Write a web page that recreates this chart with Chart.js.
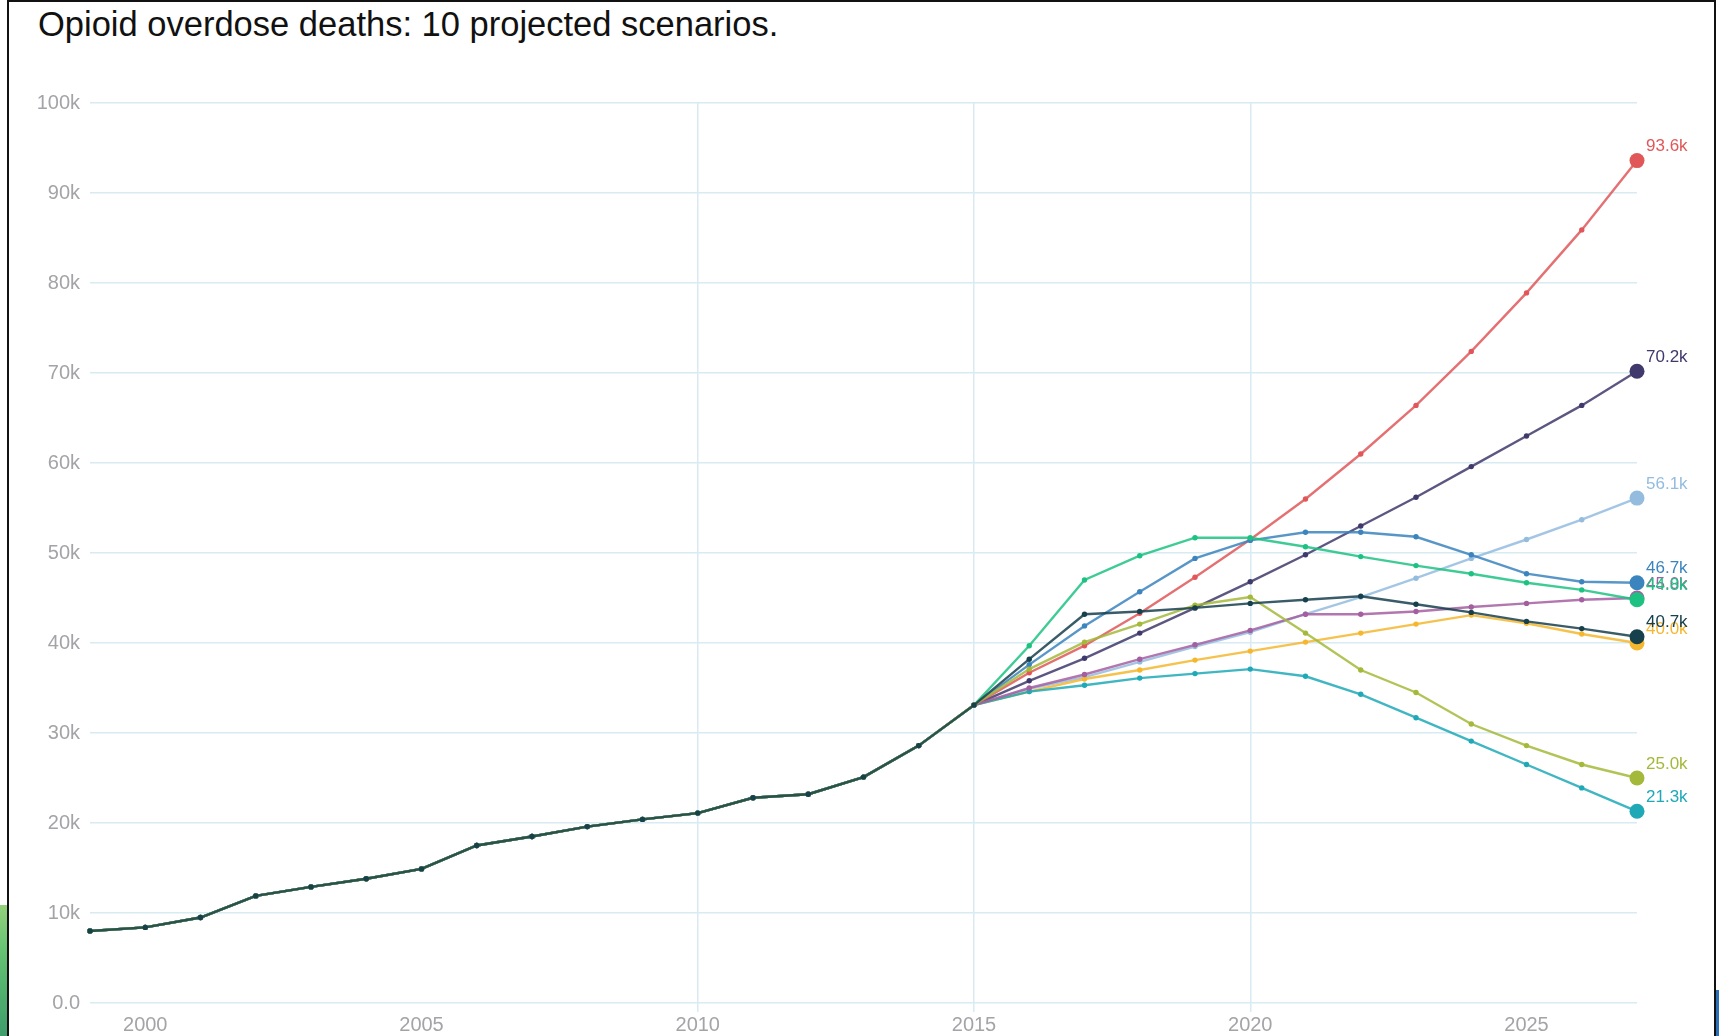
<!DOCTYPE html>
<html>
<head>
<meta charset="utf-8">
<title>Opioid overdose deaths: 10 projected scenarios.</title>
<script src="https://cdn.jsdelivr.net/npm/chart.js@4"></script>
<style>
  html, body { margin: 0; padding: 0; background: #fff; }
  body { width: 1719px; height: 1036px; position: relative; overflow: hidden;
         font-family: "Liberation Sans", Arial, sans-serif; }
  #frame { position: absolute; left: 7px; top: 0; width: 1709px; height: 1050px;
           border: 2px solid #111; border-bottom: none; box-sizing: border-box; background: #fff; }
  #leaf { position: absolute; left: 0; top: 905px; width: 7px; height: 131px;
          background: linear-gradient(170deg, #94d27c 0%, #66c374 35%, #55b46e 60%, #3e9d6c 100%); }
  #edge { position: absolute; left: 1716px; top: 990px; width: 3px; height: 46px; background: #2d6fb4; }
  #title { position: absolute; left: 38px; top: 7px; font-size: 34.5px; line-height: 35px;
           color: #111; white-space: nowrap; }
  #chart { position: absolute; left: 0; top: 0; }
</style>
</head>
<body>
<div id="frame"></div>
<div id="leaf"></div>
<div id="edge"></div>
<div id="title">Opioid overdose deaths: 10 projected scenarios.</div>
<canvas id="chart" width="1719" height="1036"></canvas>

<script>
// --- Datos (miles de muertes) ---
const years = [1999, 2000, 2001, 2002, 2003, 2004, 2005, 2006, 2007, 2008, 2009, 2010, 2011, 2012,
               2013, 2014, 2015, 2016, 2017, 2018, 2019, 2020, 2021, 2022, 2023, 2024, 2025, 2026, 2027];

// 1999-2015, común a todos los escenarios
const historic = [8.0, 8.4, 9.5, 11.9, 12.9, 13.8, 14.9, 17.5, 18.5, 19.6, 20.4, 21.1, 22.8, 23.2, 25.1, 28.6, 33.1];

// 2016-2027
const scNavy       = [38.2, 43.2, 43.5, 43.9, 44.4, 44.8, 45.2, 44.3, 43.4, 42.4, 41.6, 40.7];
const scOlive      = [37.1, 40.1, 42.1, 44.2, 45.1, 41.1, 37.0, 34.5, 31.0, 28.6, 26.5, 25.0];
const scGreen      = [39.7, 47.0, 49.7, 51.7, 51.7, 50.7, 49.6, 48.6, 47.7, 46.7, 45.9, 44.8];
const scPurple     = [35.0, 36.5, 38.2, 39.8, 41.4, 43.2, 43.2, 43.5, 44.0, 44.4, 44.8, 45.0];
const scBlue       = [37.6, 41.9, 45.7, 49.4, 51.4, 52.3, 52.3, 51.8, 49.8, 47.7, 46.8, 46.7];
const scTeal       = [34.6, 35.3, 36.1, 36.6, 37.1, 36.3, 34.3, 31.7, 29.1, 26.5, 23.9, 21.3];
const scYellow     = [34.6, 36.0, 37.0, 38.1, 39.1, 40.1, 41.1, 42.1, 43.1, 42.2, 41.0, 40.0];
const scRed        = [36.7, 39.7, 43.3, 47.3, 51.5, 56.0, 61.0, 66.4, 72.4, 78.9, 85.9, 93.6];
const scDarkPurple = [35.8, 38.3, 41.1, 43.9, 46.8, 49.8, 53.0, 56.2, 59.6, 63.0, 66.4, 70.2];
const scLightBlue  = [34.9, 36.2, 37.9, 39.6, 41.2, 43.2, 45.1, 47.2, 49.4, 51.5, 53.7, 56.1];

const yTicks = [0, 10, 20, 30, 40, 50, 60, 70, 80, 90, 100];
const xTicks = [2000, 2005, 2010, 2015, 2020, 2025];
const xGridYears = [2010, 2015, 2020];

// el primero se dibuja encima
const scenarios = [
  { values: scNavy,       color: '#17404d' },
  { values: scOlive,      color: '#a4b83a' },
  { values: scGreen,      color: '#1dc282' },
  { values: scPurple,     color: '#a35fa0' },
  { values: scBlue,       color: '#3b84bd' },
  { values: scTeal,       color: '#1fa9b7' },
  { values: scYellow,     color: '#f5b72f' },
  { values: scRed,        color: '#e15759' },
  { values: scDarkPurple, color: '#40396b' },
  { values: scLightBlue,  color: '#94bcdf' },
];

// --- Estilo ---
const FONT = '"Liberation Sans", Arial, sans-serif';
const gridColor = '#d8ebf2';
const tickColor = '#a4a4a8';

const datasets = scenarios.map(s => {
  const vals = historic.concat(s.values);
  const last = vals.length - 1;
  return {
    data: years.map((yr, i) => ({ x: yr, y: vals[i] })),
    borderColor: s.color + 'd9',   // línea algo translúcida
    backgroundColor: s.color,
    pointBackgroundColor: s.color,
    borderWidth: 2.4,
    pointBorderWidth: 0,
    pointRadius: ctx => ctx.dataIndex === last ? 7.5 : 2.7,
    tension: 0,
    clip: false,
  };
});

// etiquetas al final de cada línea
const endLabels = {
  id: 'endLabels',
  afterDatasetsDraw(chart) {
    const { ctx } = chart;
    ctx.save();
    ctx.font = '17px ' + FONT;
    ctx.textAlign = 'left';
    ctx.textBaseline = 'middle';
    for (let i = chart.data.datasets.length - 1; i >= 0; i--) {
      const ds = chart.data.datasets[i];
      const pts = chart.getDatasetMeta(i).data;
      const pt = pts[pts.length - 1];
      ctx.fillStyle = ds.pointBackgroundColor;
      ctx.fillText(ds.data[ds.data.length - 1].y.toFixed(1) + 'k', pt.x + 9, pt.y - 14);
    }
    ctx.restore();
  }
};

new Chart(document.getElementById('chart'), {
  type: 'line',
  data: { datasets },
  plugins: [endLabels],
  options: {
    responsive: false,
    animation: false,
    devicePixelRatio: 1,
    layout: { padding: { top: 103, right: 82, bottom: 0, left: 0 } },
    plugins: { legend: { display: false }, tooltip: { enabled: false } },
    scales: {
      x: {
        type: 'linear',
        min: years[0],
        max: years[years.length - 1],
        afterBuildTicks: s => { s.ticks = xTicks.map(v => ({ value: v })); },
        afterFit: s => { s.height = 33; },
        border: { display: false },
        grid: {
          color: c => (c.tick && xGridYears.includes(c.tick.value)) ? gridColor : 'rgba(0,0,0,0)',
          lineWidth: 1.5,
          tickLength: 9,
        },
        ticks: { color: tickColor, font: { family: FONT, size: 20 }, padding: 1, maxRotation: 0,
                 callback: v => String(v) },
      },
      y: {
        min: 0,
        max: 100,
        afterBuildTicks: s => { s.ticks = yTicks.map(v => ({ value: v })); },
        afterFit: s => { s.width = 90; },
        border: { display: false },
        grid: { color: gridColor, lineWidth: 1.5, drawTicks: false },
        ticks: { color: tickColor, font: { family: FONT, size: 20 }, padding: 10,
                 callback: v => v === 0 ? '0.0' : v + 'k' },
      }
    }
  }
});
</script>
</body>
</html>
